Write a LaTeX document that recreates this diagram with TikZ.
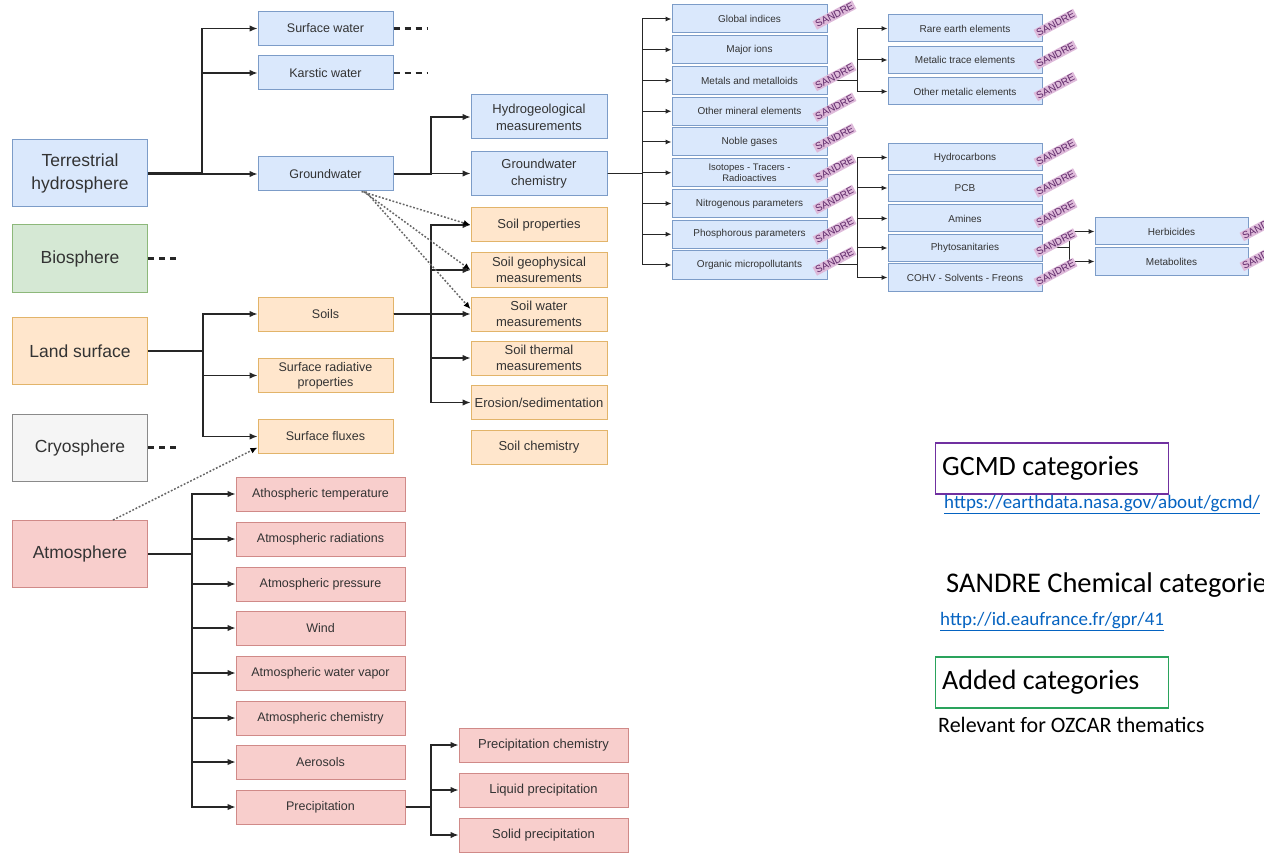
\documentclass[tikz,border=0pt]{standalone}
\usepackage{fontspec}
\setmainfont{Liberation Sans}
\newfontfamily\calib{Carlito}
\usetikzlibrary{arrows.meta,calc}
\definecolor{bfill}{HTML}{DAE8FC}\definecolor{bdraw}{HTML}{7C9CC8}
\definecolor{gfill}{HTML}{D5E8D4}\definecolor{gdraw}{HTML}{8DB87A}
\definecolor{ofill}{HTML}{FFE6CC}\definecolor{odraw}{HTML}{E2B46A}
\definecolor{rfill}{HTML}{F8CECC}\definecolor{rdraw}{HTML}{D08A88}
\definecolor{wfill}{HTML}{F5F5F5}\definecolor{wdraw}{HTML}{8A8A8A}
\definecolor{txt}{HTML}{333333}
\definecolor{lnk}{HTML}{0563C1}
\definecolor{purp}{HTML}{7030A0}
\definecolor{grn}{HTML}{2AA35C}
\definecolor{stfill}{RGB}{222,186,218}
\definecolor{sttext}{RGB}{95,40,105}
\tikzset{
  box/.style={draw, line width=1pt, inner sep=1pt, align=center, text=txt},
  B/.style={fill=bfill, draw=bdraw}, G/.style={fill=gfill, draw=gdraw},
  O/.style={fill=ofill, draw=odraw}, R/.style={fill=rfill, draw=rdraw},
  W/.style={fill=wfill, draw=wdraw},
  big/.style={box, minimum width=135pt, minimum height=67pt, font=\fontsize{17.5}{23}\selectfont},
  mid/.style={box, minimum width=135pt, minimum height=34pt, font=\fontsize{12.5}{15}\selectfont},
  soil/.style={box, O, minimum width=136pt, minimum height=34pt, font=\fontsize{13}{16}\selectfont},
  gwbox/.style={box, B, minimum width=136pt, minimum height=44pt, font=\fontsize{13}{17}\selectfont},
  atmc/.style={box, R, minimum width=169pt, minimum height=34pt, font=\fontsize{12.5}{15}\selectfont},
  prc/.style={box, R, minimum width=169pt, minimum height=34pt, font=\fontsize{13}{15}\selectfont},
  chem/.style={box, B, minimum width=155pt, minimum height=28pt, font=\fontsize{10}{12}\selectfont},
  chem2/.style={box, B, minimum width=154pt, minimum height=27pt, font=\fontsize{10}{12}\selectfont},
  stamp/.style={fill=stfill, text=sttext, inner xsep=1.5pt, inner ysep=1.2pt, rotate=28, font=\fontsize{10}{10}\selectfont},
  arr/.style={-{Latex[length=8pt,width=6.5pt]}, line width=1.3pt, draw=black!85},
  carr/.style={-{Latex[length=6pt,width=5pt]}, line width=1pt, draw=black!85},
  stem/.style={line width=2.2pt, draw=black!85},
  stub/.style={dash pattern=on 6pt off 5pt, line width=2.4pt, draw=black!85},
  dots/.style={dash pattern=on 1.8pt off 1.8pt, line width=1.5pt, draw=black!60, -{Latex[length=7pt,width=6pt,fill=black,color=black]}},
  legbox/.style={line width=1.4pt, minimum height=51pt, minimum width=233pt, inner sep=0pt, anchor=west},
  legtxt/.style={inner sep=0pt, anchor=west},
  legbig/.style={legtxt, font=\calib\fontsize{28}{30}\selectfont},
}
\begin{document}
\begin{tikzpicture}[x=1pt,y=-1pt]
\useasboundingbox[fill=white] (0,0) rectangle (1264,853);
\clip (0,0) rectangle (1264,853);
% level 1
\node[big,B] (ter) at (80,173.5) {Terrestrial\\hydrosphere};
\node[big,G] (bio) at (80,258.5) {Biosphere};
\node[big,O] (land) at (80,351) {Land surface};
\node[big,W] (cryo) at (80,447.5) {Cryosphere};
\node[big,R] (atm) at (80,554) {Atmosphere};
% level 2
\node[mid,B] (sw) at (325.5,28.5) {Surface water};
\node[mid,B] (kw) at (325.5,73) {Karstic water};
\node[mid,B] (gw) at (325.5,174) {Groundwater};
\node[mid,O] (soils) at (325.5,314) {Soils};
\node[mid,O] (srp) at (325.5,375.5) {Surface radiative\\properties};
\node[mid,O] (sf) at (325.5,436.5) {Surface fluxes};
% groundwater children
\node[gwbox] (hyd) at (539,117) {Hydrogeological\\measurements};
\node[gwbox] (gwc) at (539,173.5) {Groundwater\\chemistry};
% soil children
\node[soil] (sp) at (539,225) {Soil properties};
\node[soil] (sg) at (539,270) {Soil geophysical\\measurements};
\node[soil] (swm) at (539,314) {Soil water\\measurements};
\node[soil] (stm) at (539,358) {Soil thermal\\measurements};
\node[soil] (ero) at (539,402.5) {Erosion/sedimentation};
\node[soil] (sc) at (539,447) {Soil chemistry};
% atmosphere children
\node[atmc] (a1) at (320.5,494) {Athospheric temperature};
\node[atmc] (a2) at (320.5,539) {Atmospheric radiations};
\node[atmc] (a3) at (320.5,584) {Atmospheric pressure};
\node[atmc] (a4) at (320.5,628) {Wind};
\node[atmc] (a5) at (320.5,673) {Atmospheric water vapor};
\node[atmc] (a6) at (320.5,718) {Atmospheric chemistry};
\node[atmc] (a7) at (320.5,762) {Aerosols};
\node[atmc] (a8) at (320.5,807) {Precipitation};
% precipitation children
\node[prc] (p1) at (543.5,745) {Precipitation chemistry};
\node[prc] (p2) at (543.5,790) {Liquid precipitation};
\node[prc] (p3) at (543.5,835) {Solid precipitation};
% chemistry
\node[chem] (gi) at (749.5,19) {Global indices};
\node[chem] (mi) at (749.5,49.75) {Major ions};
\node[chem] (mm) at (749.5,80.5) {Metals and metalloids};
\node[chem] (ome) at (749.5,111.25) {Other mineral elements};
\node[chem] (ng) at (749.5,142) {Noble gases};
\node[chem,font=\fontsize{9.5}{11.5}\selectfont] (itr) at (749.5,172.75) {Isotopes - Tracers -\\Radioactives};
\node[chem] (np) at (749.5,203.5) {Nitrogenous parameters};
\node[chem] (pp) at (749.5,234.25) {Phosphorous parameters};
\node[chem] (om) at (749.5,265) {Organic micropollutants};
\node[chem2] (ree) at (965,28.5) {Rare earth elements};
\node[chem2] (mte) at (965,60) {Metalic trace elements};
\node[chem2] (omt) at (965,91.5) {Other metalic elements};
\node[chem2] (hc) at (965,157.5) {Hydrocarbons};
\node[chem2] (pcb) at (965,188) {PCB};
\node[chem2] (am) at (965,218.5) {Amines};
\node[chem2] (phy) at (965,248) {Phytosanitaries};
\node[chem2] (cohv) at (965,277.5) {COHV - Solvents - Freons};
\node[chem2,minimum width=153pt] (herb) at (1171.5,231.5) {Herbicides};
\node[chem2,minimum width=153pt] (met) at (1171.5,261.5) {Metabolites};
% trunk coordinates
\coordinate (tT) at (202,0);
\coordinate (tL) at (203,0);
\coordinate (tA) at (192,0);
\coordinate (tP) at (431,0);
\coordinate (tG) at (431,0);
\coordinate (tS) at (431,0);
\coordinate (tC) at (642,0);
\coordinate (tM) at (857,0);
\coordinate (tO) at (857,0);
\coordinate (tPh) at (1069,0);
% connectors
\draw[stem] (ter.east) -- (ter.east -| tT);
\foreach \n in {sw,kw,gw}{\draw[arr] (ter.east) -- (ter.east -| tT) |- (\n.west);}
\draw[stem] (land.east) -- (land.east -| tL);
\foreach \n in {soils,srp,sf}{\draw[arr] (land.east) -- (land.east -| tL) |- (\n.west);}
\draw[stem] (atm.east) -- (atm.east -| tA);
\foreach \n in {a1,a2,a3,a4,a5,a6,a7,a8}{\draw[arr] (atm.east) -- (atm.east -| tA) |- (\n.west);}
\foreach \n in {p1,p2,p3}{\draw[arr] (a8.east) -- (a8.east -| tP) |- (\n.west);}
\foreach \n in {hyd,gwc}{\draw[arr] (gw.east) -- (gw.east -| tG) |- (\n.west);}
\foreach \n in {sp,sg,swm,stm,ero}{\draw[arr] (soils.east) -- (soils.east -| tS) |- (\n.west);}
\foreach \n in {gi,mi,mm,ome,ng,itr,np,pp,om}{\draw[carr] (gwc.east) -- (gwc.east -| tC) |- (\n.west);}
\foreach \n in {ree,mte,omt}{\draw[carr] (mm.east) -- (mm.east -| tM) |- (\n.west);}
\foreach \n in {hc,pcb,am,phy,cohv}{\draw[carr] (om.east) -- (om.east -| tO) |- (\n.west);}
\foreach \n in {herb,met}{\draw[carr] (phy.east) -- (phy.east -| tPh) |- (\n.west);}
% stamps
\foreach \s in {gi,mm,ome,ng,itr,np,pp,om}{\node[stamp] (st-\s) at ($(\s.east)+(7,-4)$) {SANDRE};}
\foreach \s in {ree,mte,omt,hc,pcb,am,phy,cohv,herb,met}{\node[stamp] (st-\s) at ($(\s.east)+(13,-5)$) {SANDRE};}
% dashed stubs
\coordinate (swE) at (427,28.5);
\coordinate (kwE) at (427,73);
\coordinate (bioE) at (180,258.5);
\coordinate (cryoE) at (180,447.5);
\draw[stub] (sw.east) -- (swE);
\draw[stub] (kw.east) -- (kwE);
\draw[stub] (bio.east) -- (bioE);
\draw[stub] (cryo.east) -- (cryoE);
% dotted links
\draw[dots] ([xshift=36pt]gw.south) -- (sp.west);
\draw[dots] ([xshift=38pt]gw.south) -- (sg.west);
\draw[dots] ([xshift=40pt]gw.south) -- ([yshift=5pt]swm.west);
\draw[dots] ([xshift=33pt]atm.north) -- ([yshift=6.5pt]sf.south west);
% legend
\node[legbox, draw=purp] (gcmd) at (935,468.5) {};
\node[legbig] (gcmdt) at (942,468.5) {GCMD categories};
\node[legtxt, text=lnk, font=\calib\fontsize{19}{21}\selectfont] (l1) at (944,505) {\underline{https://earthdata.nasa.gov/about/gcmd/}};
\node[legbig, font=\calib\fontsize{28.5}{30}\selectfont] (sandre) at (946,585) {SANDRE Chemical categories};
\node[legtxt, text=lnk, font=\calib\fontsize{19}{21}\selectfont] (l2) at (940,622) {\underline{http://id.eaufrance.fr/gpr/41}};
\node[legbox, draw=grn] (added) at (935,682.5) {};
\node[legbig] (addedt) at (942,682.5) {Added categories};
\node[legtxt, font=\calib\fontsize{22}{24}\selectfont] (rel) at (938,725) {Relevant for OZCAR thematics};
\end{tikzpicture}
\end{document}
